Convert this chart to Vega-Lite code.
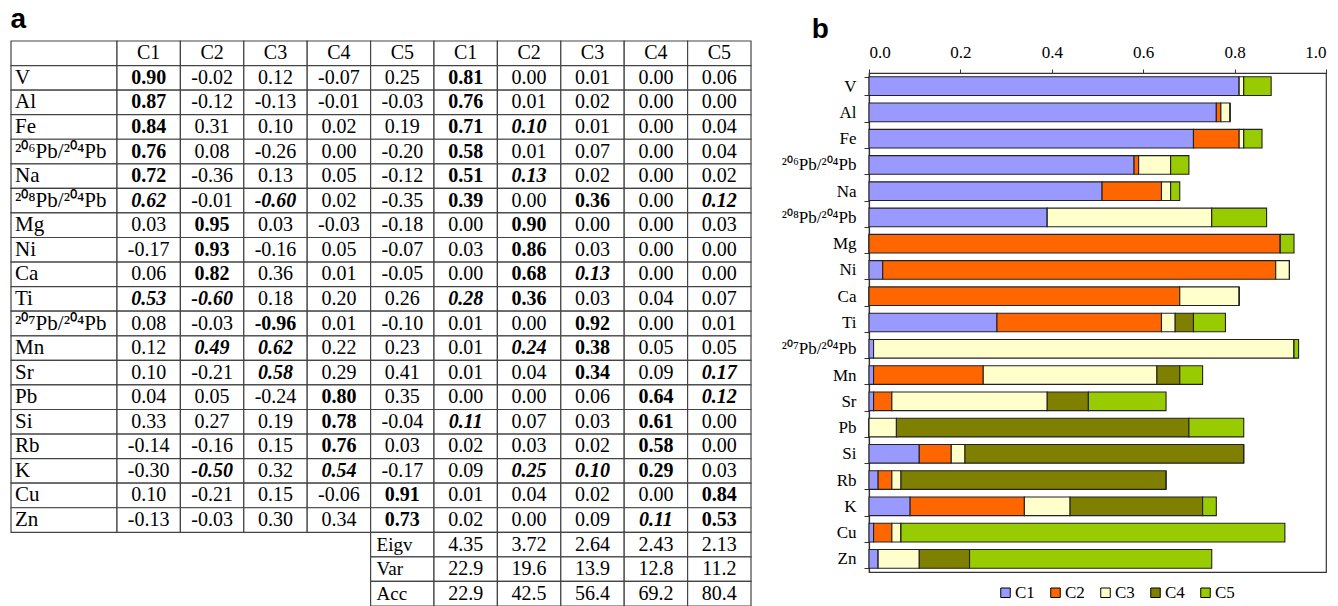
{
  "$schema": "https://vega.github.io/schema/vega-lite/v6.json",
  "description": "PCA loadings table (a) and stacked squared loadings per element (b).",
  "padding": {"left": 10, "top": 6, "right": 0, "bottom": 0},
  "config": {
    "font": "Liberation Serif",
    "view": {"stroke": null},
    "concat": {"spacing": 0},
    "text": {"font": "Liberation Serif", "fontSize": 20, "color": "#000"}
  },
  "datasets": {
    "header": [
      {"el": "hdr", "comp": "C1"}, {"el": "hdr", "comp": "C2"}, {"el": "hdr", "comp": "C3"},
      {"el": "hdr", "comp": "C4"}, {"el": "hdr", "comp": "C5"}
    ],
    "load": [
      {"el": "V", "comp": "C1", "t": "0.90", "lvl": "b"}, {"el": "V", "comp": "C2", "t": "-0.02"}, {"el": "V", "comp": "C3", "t": "0.12"}, {"el": "V", "comp": "C4", "t": "-0.07"}, {"el": "V", "comp": "C5", "t": "0.25"},
      {"el": "Al", "comp": "C1", "t": "0.87", "lvl": "b"}, {"el": "Al", "comp": "C2", "t": "-0.12"}, {"el": "Al", "comp": "C3", "t": "-0.13"}, {"el": "Al", "comp": "C4", "t": "-0.01"}, {"el": "Al", "comp": "C5", "t": "-0.03"},
      {"el": "Fe", "comp": "C1", "t": "0.84", "lvl": "b"}, {"el": "Fe", "comp": "C2", "t": "0.31"}, {"el": "Fe", "comp": "C3", "t": "0.10"}, {"el": "Fe", "comp": "C4", "t": "0.02"}, {"el": "Fe", "comp": "C5", "t": "0.19"},
      {"el": "²⁰⁶Pb/²⁰⁴Pb", "comp": "C1", "t": "0.76", "lvl": "b"}, {"el": "²⁰⁶Pb/²⁰⁴Pb", "comp": "C2", "t": "0.08"}, {"el": "²⁰⁶Pb/²⁰⁴Pb", "comp": "C3", "t": "-0.26"}, {"el": "²⁰⁶Pb/²⁰⁴Pb", "comp": "C4", "t": "0.00"}, {"el": "²⁰⁶Pb/²⁰⁴Pb", "comp": "C5", "t": "-0.20"},
      {"el": "Na", "comp": "C1", "t": "0.72", "lvl": "b"}, {"el": "Na", "comp": "C2", "t": "-0.36"}, {"el": "Na", "comp": "C3", "t": "0.13"}, {"el": "Na", "comp": "C4", "t": "0.05"}, {"el": "Na", "comp": "C5", "t": "-0.12"},
      {"el": "²⁰⁸Pb/²⁰⁴Pb", "comp": "C1", "t": "0.62", "lvl": "bi"}, {"el": "²⁰⁸Pb/²⁰⁴Pb", "comp": "C2", "t": "-0.01"}, {"el": "²⁰⁸Pb/²⁰⁴Pb", "comp": "C3", "t": "-0.60", "lvl": "bi"}, {"el": "²⁰⁸Pb/²⁰⁴Pb", "comp": "C4", "t": "0.02"}, {"el": "²⁰⁸Pb/²⁰⁴Pb", "comp": "C5", "t": "-0.35"},
      {"el": "Mg", "comp": "C1", "t": "0.03"}, {"el": "Mg", "comp": "C2", "t": "0.95", "lvl": "b"}, {"el": "Mg", "comp": "C3", "t": "0.03"}, {"el": "Mg", "comp": "C4", "t": "-0.03"}, {"el": "Mg", "comp": "C5", "t": "-0.18"},
      {"el": "Ni", "comp": "C1", "t": "-0.17"}, {"el": "Ni", "comp": "C2", "t": "0.93", "lvl": "b"}, {"el": "Ni", "comp": "C3", "t": "-0.16"}, {"el": "Ni", "comp": "C4", "t": "0.05"}, {"el": "Ni", "comp": "C5", "t": "-0.07"},
      {"el": "Ca", "comp": "C1", "t": "0.06"}, {"el": "Ca", "comp": "C2", "t": "0.82", "lvl": "b"}, {"el": "Ca", "comp": "C3", "t": "0.36"}, {"el": "Ca", "comp": "C4", "t": "0.01"}, {"el": "Ca", "comp": "C5", "t": "-0.05"},
      {"el": "Ti", "comp": "C1", "t": "0.53", "lvl": "bi"}, {"el": "Ti", "comp": "C2", "t": "-0.60", "lvl": "bi"}, {"el": "Ti", "comp": "C3", "t": "0.18"}, {"el": "Ti", "comp": "C4", "t": "0.20"}, {"el": "Ti", "comp": "C5", "t": "0.26"},
      {"el": "²⁰⁷Pb/²⁰⁴Pb", "comp": "C1", "t": "0.08"}, {"el": "²⁰⁷Pb/²⁰⁴Pb", "comp": "C2", "t": "-0.03"}, {"el": "²⁰⁷Pb/²⁰⁴Pb", "comp": "C3", "t": "-0.96", "lvl": "b"}, {"el": "²⁰⁷Pb/²⁰⁴Pb", "comp": "C4", "t": "0.01"}, {"el": "²⁰⁷Pb/²⁰⁴Pb", "comp": "C5", "t": "-0.10"},
      {"el": "Mn", "comp": "C1", "t": "0.12"}, {"el": "Mn", "comp": "C2", "t": "0.49", "lvl": "bi"}, {"el": "Mn", "comp": "C3", "t": "0.62", "lvl": "bi"}, {"el": "Mn", "comp": "C4", "t": "0.22"}, {"el": "Mn", "comp": "C5", "t": "0.23"},
      {"el": "Sr", "comp": "C1", "t": "0.10"}, {"el": "Sr", "comp": "C2", "t": "-0.21"}, {"el": "Sr", "comp": "C3", "t": "0.58", "lvl": "bi"}, {"el": "Sr", "comp": "C4", "t": "0.29"}, {"el": "Sr", "comp": "C5", "t": "0.41"},
      {"el": "Pb", "comp": "C1", "t": "0.04"}, {"el": "Pb", "comp": "C2", "t": "0.05"}, {"el": "Pb", "comp": "C3", "t": "-0.24"}, {"el": "Pb", "comp": "C4", "t": "0.80", "lvl": "b"}, {"el": "Pb", "comp": "C5", "t": "0.35"},
      {"el": "Si", "comp": "C1", "t": "0.33"}, {"el": "Si", "comp": "C2", "t": "0.27"}, {"el": "Si", "comp": "C3", "t": "0.19"}, {"el": "Si", "comp": "C4", "t": "0.78", "lvl": "b"}, {"el": "Si", "comp": "C5", "t": "-0.04"},
      {"el": "Rb", "comp": "C1", "t": "-0.14"}, {"el": "Rb", "comp": "C2", "t": "-0.16"}, {"el": "Rb", "comp": "C3", "t": "0.15"}, {"el": "Rb", "comp": "C4", "t": "0.76", "lvl": "b"}, {"el": "Rb", "comp": "C5", "t": "0.03"},
      {"el": "K", "comp": "C1", "t": "-0.30"}, {"el": "K", "comp": "C2", "t": "-0.50", "lvl": "bi"}, {"el": "K", "comp": "C3", "t": "0.32"}, {"el": "K", "comp": "C4", "t": "0.54", "lvl": "bi"}, {"el": "K", "comp": "C5", "t": "-0.17"},
      {"el": "Cu", "comp": "C1", "t": "0.10"}, {"el": "Cu", "comp": "C2", "t": "-0.21"}, {"el": "Cu", "comp": "C3", "t": "0.15"}, {"el": "Cu", "comp": "C4", "t": "-0.06"}, {"el": "Cu", "comp": "C5", "t": "0.91", "lvl": "b"},
      {"el": "Zn", "comp": "C1", "t": "-0.13"}, {"el": "Zn", "comp": "C2", "t": "-0.03"}, {"el": "Zn", "comp": "C3", "t": "0.30"}, {"el": "Zn", "comp": "C4", "t": "0.34"}, {"el": "Zn", "comp": "C5", "t": "0.73", "lvl": "b"}
    ],
    "sq": [
      {"el": "V", "comp": "C1", "v": 0.81, "lvl": "b"}, {"el": "V", "comp": "C2", "v": 0.00}, {"el": "V", "comp": "C3", "v": 0.01}, {"el": "V", "comp": "C4", "v": 0.00}, {"el": "V", "comp": "C5", "v": 0.06},
      {"el": "Al", "comp": "C1", "v": 0.76, "lvl": "b"}, {"el": "Al", "comp": "C2", "v": 0.01}, {"el": "Al", "comp": "C3", "v": 0.02}, {"el": "Al", "comp": "C4", "v": 0.00}, {"el": "Al", "comp": "C5", "v": 0.00},
      {"el": "Fe", "comp": "C1", "v": 0.71, "lvl": "b"}, {"el": "Fe", "comp": "C2", "v": 0.10, "lvl": "bi"}, {"el": "Fe", "comp": "C3", "v": 0.01}, {"el": "Fe", "comp": "C4", "v": 0.00}, {"el": "Fe", "comp": "C5", "v": 0.04},
      {"el": "²⁰⁶Pb/²⁰⁴Pb", "comp": "C1", "v": 0.58, "lvl": "b"}, {"el": "²⁰⁶Pb/²⁰⁴Pb", "comp": "C2", "v": 0.01}, {"el": "²⁰⁶Pb/²⁰⁴Pb", "comp": "C3", "v": 0.07}, {"el": "²⁰⁶Pb/²⁰⁴Pb", "comp": "C4", "v": 0.00}, {"el": "²⁰⁶Pb/²⁰⁴Pb", "comp": "C5", "v": 0.04},
      {"el": "Na", "comp": "C1", "v": 0.51, "lvl": "b"}, {"el": "Na", "comp": "C2", "v": 0.13, "lvl": "bi"}, {"el": "Na", "comp": "C3", "v": 0.02}, {"el": "Na", "comp": "C4", "v": 0.00}, {"el": "Na", "comp": "C5", "v": 0.02},
      {"el": "²⁰⁸Pb/²⁰⁴Pb", "comp": "C1", "v": 0.39, "lvl": "b"}, {"el": "²⁰⁸Pb/²⁰⁴Pb", "comp": "C2", "v": 0.00}, {"el": "²⁰⁸Pb/²⁰⁴Pb", "comp": "C3", "v": 0.36, "lvl": "b"}, {"el": "²⁰⁸Pb/²⁰⁴Pb", "comp": "C4", "v": 0.00}, {"el": "²⁰⁸Pb/²⁰⁴Pb", "comp": "C5", "v": 0.12, "lvl": "bi"},
      {"el": "Mg", "comp": "C1", "v": 0.00}, {"el": "Mg", "comp": "C2", "v": 0.90, "lvl": "b"}, {"el": "Mg", "comp": "C3", "v": 0.00}, {"el": "Mg", "comp": "C4", "v": 0.00}, {"el": "Mg", "comp": "C5", "v": 0.03},
      {"el": "Ni", "comp": "C1", "v": 0.03}, {"el": "Ni", "comp": "C2", "v": 0.86, "lvl": "b"}, {"el": "Ni", "comp": "C3", "v": 0.03}, {"el": "Ni", "comp": "C4", "v": 0.00}, {"el": "Ni", "comp": "C5", "v": 0.00},
      {"el": "Ca", "comp": "C1", "v": 0.00}, {"el": "Ca", "comp": "C2", "v": 0.68, "lvl": "b"}, {"el": "Ca", "comp": "C3", "v": 0.13, "lvl": "bi"}, {"el": "Ca", "comp": "C4", "v": 0.00}, {"el": "Ca", "comp": "C5", "v": 0.00},
      {"el": "Ti", "comp": "C1", "v": 0.28, "lvl": "bi"}, {"el": "Ti", "comp": "C2", "v": 0.36, "lvl": "b"}, {"el": "Ti", "comp": "C3", "v": 0.03}, {"el": "Ti", "comp": "C4", "v": 0.04}, {"el": "Ti", "comp": "C5", "v": 0.07},
      {"el": "²⁰⁷Pb/²⁰⁴Pb", "comp": "C1", "v": 0.01}, {"el": "²⁰⁷Pb/²⁰⁴Pb", "comp": "C2", "v": 0.00}, {"el": "²⁰⁷Pb/²⁰⁴Pb", "comp": "C3", "v": 0.92, "lvl": "b"}, {"el": "²⁰⁷Pb/²⁰⁴Pb", "comp": "C4", "v": 0.00}, {"el": "²⁰⁷Pb/²⁰⁴Pb", "comp": "C5", "v": 0.01},
      {"el": "Mn", "comp": "C1", "v": 0.01}, {"el": "Mn", "comp": "C2", "v": 0.24, "lvl": "bi"}, {"el": "Mn", "comp": "C3", "v": 0.38, "lvl": "b"}, {"el": "Mn", "comp": "C4", "v": 0.05}, {"el": "Mn", "comp": "C5", "v": 0.05},
      {"el": "Sr", "comp": "C1", "v": 0.01}, {"el": "Sr", "comp": "C2", "v": 0.04}, {"el": "Sr", "comp": "C3", "v": 0.34, "lvl": "b"}, {"el": "Sr", "comp": "C4", "v": 0.09}, {"el": "Sr", "comp": "C5", "v": 0.17, "lvl": "bi"},
      {"el": "Pb", "comp": "C1", "v": 0.00}, {"el": "Pb", "comp": "C2", "v": 0.00}, {"el": "Pb", "comp": "C3", "v": 0.06}, {"el": "Pb", "comp": "C4", "v": 0.64, "lvl": "b"}, {"el": "Pb", "comp": "C5", "v": 0.12, "lvl": "bi"},
      {"el": "Si", "comp": "C1", "v": 0.11, "lvl": "bi"}, {"el": "Si", "comp": "C2", "v": 0.07}, {"el": "Si", "comp": "C3", "v": 0.03}, {"el": "Si", "comp": "C4", "v": 0.61, "lvl": "b"}, {"el": "Si", "comp": "C5", "v": 0.00},
      {"el": "Rb", "comp": "C1", "v": 0.02}, {"el": "Rb", "comp": "C2", "v": 0.03}, {"el": "Rb", "comp": "C3", "v": 0.02}, {"el": "Rb", "comp": "C4", "v": 0.58, "lvl": "b"}, {"el": "Rb", "comp": "C5", "v": 0.00},
      {"el": "K", "comp": "C1", "v": 0.09}, {"el": "K", "comp": "C2", "v": 0.25, "lvl": "bi"}, {"el": "K", "comp": "C3", "v": 0.10, "lvl": "bi"}, {"el": "K", "comp": "C4", "v": 0.29, "lvl": "b"}, {"el": "K", "comp": "C5", "v": 0.03},
      {"el": "Cu", "comp": "C1", "v": 0.01}, {"el": "Cu", "comp": "C2", "v": 0.04}, {"el": "Cu", "comp": "C3", "v": 0.02}, {"el": "Cu", "comp": "C4", "v": 0.00}, {"el": "Cu", "comp": "C5", "v": 0.84, "lvl": "b"},
      {"el": "Zn", "comp": "C1", "v": 0.02}, {"el": "Zn", "comp": "C2", "v": 0.00}, {"el": "Zn", "comp": "C3", "v": 0.09}, {"el": "Zn", "comp": "C4", "v": 0.11, "lvl": "bi"}, {"el": "Zn", "comp": "C5", "v": 0.53, "lvl": "b"}
    ],
    "stats": [
      {"el": "Eigv", "comp": "C1", "t": "4.35"}, {"el": "Eigv", "comp": "C2", "t": "3.72"}, {"el": "Eigv", "comp": "C3", "t": "2.64"}, {"el": "Eigv", "comp": "C4", "t": "2.43"}, {"el": "Eigv", "comp": "C5", "t": "2.13"},
      {"el": "Var", "comp": "C1", "t": "22.9"}, {"el": "Var", "comp": "C2", "t": "19.6"}, {"el": "Var", "comp": "C3", "t": "13.9"}, {"el": "Var", "comp": "C4", "t": "12.8"}, {"el": "Var", "comp": "C5", "t": "11.2"},
      {"el": "Acc", "comp": "C1", "t": "22.9"}, {"el": "Acc", "comp": "C2", "t": "42.5"}, {"el": "Acc", "comp": "C3", "t": "56.4"}, {"el": "Acc", "comp": "C4", "t": "69.2"}, {"el": "Acc", "comp": "C5", "t": "80.4"}
    ]
  },
  "spacing": 28,
  "resolve": {"legend": {"color": "independent"}},
  "hconcat": [
    {
      "title": {"text": "a", "anchor": "start", "font": "Liberation Sans", "fontSize": 28, "fontWeight": "bold", "color": "#000", "offset": 6},
      "spacing": 0,
      "bounds": "flush",
      "hconcat": [
        {
          "width": 106,
          "height": 565,
          "data": {"values": [
            {"el": "hdr"}, {"el": "V"}, {"el": "Al"}, {"el": "Fe"}, {"el": "²⁰⁶Pb/²⁰⁴Pb"}, {"el": "Na"}, {"el": "²⁰⁸Pb/²⁰⁴Pb"},
            {"el": "Mg"}, {"el": "Ni"}, {"el": "Ca"}, {"el": "Ti"}, {"el": "²⁰⁷Pb/²⁰⁴Pb"}, {"el": "Mn"}, {"el": "Sr"},
            {"el": "Pb"}, {"el": "Si"}, {"el": "Rb"}, {"el": "K"}, {"el": "Cu"}, {"el": "Zn"}
          ]},
          "encoding": {
            "y": {"field": "el", "type": "nominal", "axis": null,
              "scale": {"domain": ["hdr", "V", "Al", "Fe", "²⁰⁶Pb/²⁰⁴Pb", "Na", "²⁰⁸Pb/²⁰⁴Pb", "Mg", "Ni", "Ca", "Ti", "²⁰⁷Pb/²⁰⁴Pb", "Mn", "Sr", "Pb", "Si", "Rb", "K", "Cu", "Zn", "Eigv", "Var", "Acc"], "paddingInner": 0, "paddingOuter": 0}},
            "x": {"datum": "lab", "type": "nominal", "axis": null, "scale": {"paddingInner": 0, "paddingOuter": 0}}
          },
          "layer": [
            {"mark": {"type": "rect", "fill": "#fff", "stroke": "#444", "strokeWidth": 1.2}},
            {
              "transform": [{"filter": "datum.el != 'hdr'"}],
              "mark": {"type": "text", "align": "left", "dx": 4, "fontSize": 21},
              "encoding": {
                "x": {"datum": "lab", "type": "nominal", "bandPosition": 0},
                "text": {"field": "el"}
              }
            }
          ]
        },
        {
          "width": 317,
          "height": 565,
          "encoding": {
            "y": {"field": "el", "type": "nominal", "axis": null,
              "scale": {"domain": ["hdr", "V", "Al", "Fe", "²⁰⁶Pb/²⁰⁴Pb", "Na", "²⁰⁸Pb/²⁰⁴Pb", "Mg", "Ni", "Ca", "Ti", "²⁰⁷Pb/²⁰⁴Pb", "Mn", "Sr", "Pb", "Si", "Rb", "K", "Cu", "Zn", "Eigv", "Var", "Acc"], "paddingInner": 0, "paddingOuter": 0}},
            "x": {"field": "comp", "type": "nominal", "axis": null,
              "scale": {"domain": ["C1", "C2", "C3", "C4", "C5"], "paddingInner": 0, "paddingOuter": 0}}
          },
          "layer": [
            {"data": {"name": "header"}, "mark": {"type": "rect", "fill": "#fff", "stroke": "#444", "strokeWidth": 1.2}},
            {"data": {"name": "load"}, "mark": {"type": "rect", "fill": "#fff", "stroke": "#444", "strokeWidth": 1.2}},
            {"data": {"values": [{"el": "Eigv", "comp": "C5"}, {"el": "Var", "comp": "C5"}, {"el": "Acc", "comp": "C5"}]},
              "mark": {"type": "rect", "fill": "#fff", "stroke": "#444", "strokeWidth": 1.2}},
            {"data": {"name": "header"}, "mark": {"type": "text"}, "encoding": {"text": {"field": "comp"}}},
            {"data": {"name": "load"}, "transform": [{"filter": "!datum.lvl"}],
              "mark": {"type": "text"}, "encoding": {"text": {"field": "t"}}},
            {"data": {"name": "load"}, "transform": [{"filter": "datum.lvl == 'b'"}],
              "mark": {"type": "text", "fontWeight": "bold"}, "encoding": {"text": {"field": "t"}}},
            {"data": {"name": "load"}, "transform": [{"filter": "datum.lvl == 'bi'"}],
              "mark": {"type": "text", "fontWeight": "bold", "fontStyle": "italic"}, "encoding": {"text": {"field": "t"}}},
            {"data": {"values": [{"el": "Eigv", "comp": "C5"}, {"el": "Var", "comp": "C5"}, {"el": "Acc", "comp": "C5"}]},
              "mark": {"type": "text", "align": "left", "dx": 6, "fontSize": 19},
              "encoding": {"x": {"field": "comp", "type": "nominal", "bandPosition": 0}, "text": {"field": "el"}}}
          ]
        },
        {
          "width": 317,
          "height": 565,
          "encoding": {
            "y": {"field": "el", "type": "nominal", "axis": null,
              "scale": {"domain": ["hdr", "V", "Al", "Fe", "²⁰⁶Pb/²⁰⁴Pb", "Na", "²⁰⁸Pb/²⁰⁴Pb", "Mg", "Ni", "Ca", "Ti", "²⁰⁷Pb/²⁰⁴Pb", "Mn", "Sr", "Pb", "Si", "Rb", "K", "Cu", "Zn", "Eigv", "Var", "Acc"], "paddingInner": 0, "paddingOuter": 0}},
            "x": {"field": "comp", "type": "nominal", "axis": null,
              "scale": {"domain": ["C1", "C2", "C3", "C4", "C5"], "paddingInner": 0, "paddingOuter": 0}}
          },
          "layer": [
            {"data": {"name": "header"}, "mark": {"type": "rect", "fill": "#fff", "stroke": "#444", "strokeWidth": 1.2}},
            {"data": {"name": "sq"}, "mark": {"type": "rect", "fill": "#fff", "stroke": "#444", "strokeWidth": 1.2}},
            {"data": {"name": "stats"}, "mark": {"type": "rect", "fill": "#fff", "stroke": "#444", "strokeWidth": 1.2}},
            {"data": {"name": "header"}, "mark": {"type": "text"}, "encoding": {"text": {"field": "comp"}}},
            {"data": {"name": "sq"}, "transform": [{"filter": "!datum.lvl"}],
              "mark": {"type": "text"}, "encoding": {"text": {"field": "v", "type": "quantitative", "format": ".2f"}}},
            {"data": {"name": "sq"}, "transform": [{"filter": "datum.lvl == 'b'"}],
              "mark": {"type": "text", "fontWeight": "bold"}, "encoding": {"text": {"field": "v", "type": "quantitative", "format": ".2f"}}},
            {"data": {"name": "sq"}, "transform": [{"filter": "datum.lvl == 'bi'"}],
              "mark": {"type": "text", "fontWeight": "bold", "fontStyle": "italic"}, "encoding": {"text": {"field": "v", "type": "quantitative", "format": ".2f"}}},
            {"data": {"name": "stats"}, "mark": {"type": "text"}, "encoding": {"text": {"field": "t"}}}
          ]
        }
      ]
    },
    {
      "title": {"text": "b", "anchor": "start", "dx": 31, "font": "Liberation Sans", "fontSize": 28, "fontWeight": "bold", "color": "#000", "offset": -3},
      "resolve": {"legend": {"color": "independent"}},
      "spacing": 0,
      "vconcat": [
        {
          "width": 457,
          "height": 1,
          "data": {"values": [{}]},
          "mark": {"type": "rect", "opacity": 0}
        },
        {
          "width": 457,
          "height": 499,
          "view": {"stroke": "#333", "strokeWidth": 1.2},
          "data": {"name": "sq"},
          "mark": {"type": "bar", "stroke": "#222", "strokeWidth": 1.1},
          "encoding": {
            "y": {
              "field": "el", "type": "nominal",
              "scale": {"domain": ["V", "Al", "Fe", "²⁰⁶Pb/²⁰⁴Pb", "Na", "²⁰⁸Pb/²⁰⁴Pb", "Mg", "Ni", "Ca", "Ti", "²⁰⁷Pb/²⁰⁴Pb", "Mn", "Sr", "Pb", "Si", "Rb", "K", "Cu", "Zn"], "paddingInner": 0.29, "paddingOuter": 0.145},
              "axis": {"title": null, "tickBand": "extent", "tickSize": 5, "labelPadding": 8, "labelFont": "Liberation Serif", "labelFontSize": 17, "labelColor": "#000", "domainColor": "#333", "tickColor": "#333", "domainWidth": 1.2}
            },
            "x": {
              "field": "v", "type": "quantitative", "stack": "zero",
              "scale": {"domain": [0, 1], "nice": false},
              "axis": {"orient": "top", "title": null, "grid": false, "values": [0, 0.2, 0.4, 0.6, 0.8, 1], "format": ".1f", "tickSize": 4, "labelPadding": 8, "labelFont": "Liberation Serif", "labelFontSize": 17, "labelColor": "#000", "domainColor": "#333", "tickColor": "#333", "domainWidth": 1.2}
            },
            "color": {
              "field": "comp", "type": "nominal",
              "scale": {"domain": ["C1", "C2", "C3", "C4", "C5"], "range": ["#9999ff", "#ff6600", "#ffffcc", "#808000", "#99cc00"]},
              "legend": {"title": null, "orient": "none", "legendX": 128, "legendY": 511, "direction": "horizontal", "columns": 5, "symbolType": "square", "symbolSize": 90, "symbolStrokeColor": "#000", "symbolStrokeWidth": 1, "labelFont": "Liberation Serif", "labelFontSize": 17, "labelColor": "#000", "labelOffset": 1, "columnPadding": 12, "padding": 0}
            },
            "order": {"field": "comp", "sort": "ascending"}
          }
        }
      ]
    }
  ]
}
